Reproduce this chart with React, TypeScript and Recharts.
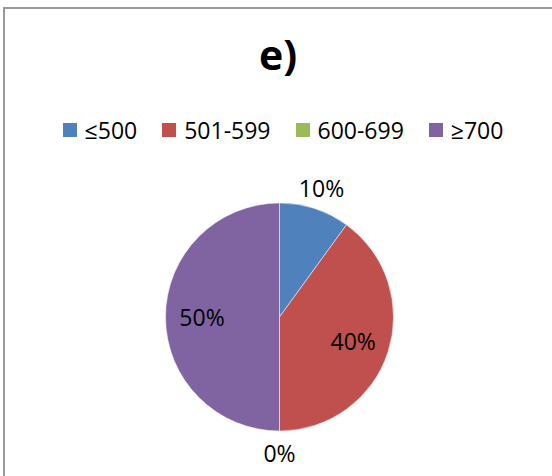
import React from "react"
import { PieChart, Pie, Cell } from "recharts"

const categories = ["≤500", "501-599", "600-699", "≥700"]
const shares = [10, 40, 0, 50]
const colors = ["#4F81BD", "#C0504D", "#9BBB59", "#8064A2"]

const data = categories.map((name, i) => ({ name, value: shares[i] }))

const FONT = "'Open Sans', sans-serif"
const RAD = Math.PI / 180

function PieLabel(props: any) {
  const { cx, cy, midAngle, outerRadius, percent } = props
  const inside = percent >= 0.2
  const r = inside ? outerRadius * 0.68 : outerRadius + 22
  const x = cx + r * Math.cos(-midAngle * RAD)
  const y = cy + r * Math.sin(-midAngle * RAD)
  return (
    <text
      x={x}
      y={y}
      fill="#000"
      fontSize={23}
      fontFamily={FONT}
      textAnchor="middle"
      dominantBaseline="central"
    >
      {Math.round(percent * 100)}%
    </text>
  )
}

function LegendRow() {
  return (
    <div style={{ display: "flex", justifyContent: "center", alignItems: "center", gap: 25, paddingLeft: 14 }}>
      {categories.map((c, i) => (
        <div key={c} style={{ display: "flex", alignItems: "center", gap: 8 }}>
          <span style={{ width: 14, height: 14, background: colors[i], display: "inline-block" }} />
          <span style={{ fontFamily: FONT, fontSize: 23, color: "#000", lineHeight: "26px" }}>{c}</span>
        </div>
      ))}
    </div>
  )
}

export default function App() {
  return (
    <div style={{ position: "absolute", left: 0, top: 0, width: 552, height: 476, background: "#fff", overflow: "hidden" }}>
      <div
        style={{
          position: "absolute",
          left: 3,
          top: 7,
          width: 560,
          height: 480,
          borderLeft: "2px solid #9a9a9a",
          borderTop: "2px solid #9a9a9a",
        }}
      />
      <div
        style={{
          position: "absolute",
          left: 0,
          top: 24,
          width: 556,
          textAlign: "center",
          fontFamily: FONT,
          fontWeight: 700,
          fontSize: 41,
          lineHeight: "60px",
          color: "#000",
        }}
      >
        e)
      </div>
      <div style={{ position: "absolute", left: 0, top: 117, width: 552 }}>
        <LegendRow />
      </div>
      <div style={{ position: "absolute", left: 0, top: 0 }}>
        <PieChart width={552} height={476} margin={{ top: 0, right: 0, bottom: 0, left: 0 }}>
          <Pie
            data={data}
            dataKey="value"
            nameKey="name"
            cx={279.5}
            cy={317}
            outerRadius={114}
            startAngle={90}
            endAngle={-270}
            stroke="#fff"
            strokeWidth={0.5}
            label={PieLabel}
            labelLine={false}
            isAnimationActive={false}
          >
            {data.map((d, i) => (
              <Cell key={d.name} fill={colors[i]} />
            ))}
          </Pie>
        </PieChart>
      </div>
    </div>
  )
}
